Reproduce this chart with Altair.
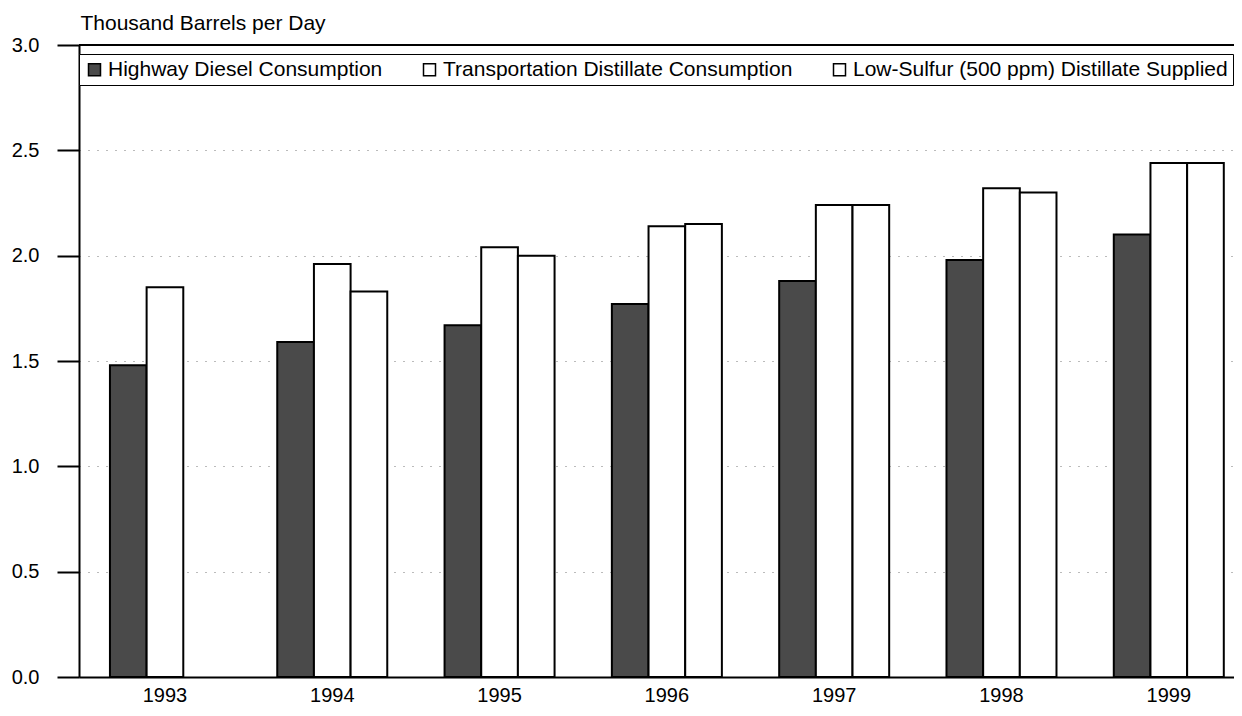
import altair as alt
import pandas as pd

years = ["1993", "1994", "1995", "1996", "1997", "1998", "1999"]
series = [
    "Highway Diesel Consumption",
    "Transportation Distillate Consumption",
    "Low-Sulfur (500 ppm) Distillate Supplied",
]
highway = [1.48, 1.59, 1.67, 1.77, 1.88, 1.98, 2.10]
transport = [1.85, 1.96, 2.04, 2.14, 2.24, 2.32, 2.44]
low_sulfur = [None, 1.83, 2.00, 2.15, 2.24, 2.30, 2.44]
y_ticks = [0.0, 0.5, 1.0, 1.5, 2.0, 2.5, 3.0]
fills = ["#4a4a4a", "white", "white"]

rows = []
for i, yr in enumerate(years):
    for s, vals in zip(series, [highway, transport, low_sulfur]):
        if vals[i] is not None:
            rows.append({"Year": yr, "Series": s, "Value": vals[i]})
df = pd.DataFrame(rows)

FONT = "Liberation Sans"

bars = alt.Chart(df).mark_bar(stroke="black", strokeWidth=2).encode(
    x=alt.X(
        "Year:N",
        sort=years,
        scale=alt.Scale(paddingInner=0.3425, paddingOuter=0.123, align=0.752),
        axis=alt.Axis(
            title=None, labelAngle=0, ticks=False, domainColor="black",
            domainWidth=2, labelFontSize=20, labelPadding=8, labelColor="black",
            grid=False,
        ),
    ),
    xOffset=alt.XOffset(
        "Series:N", sort=series,
        scale=alt.Scale(domain=series, paddingInner=0, paddingOuter=0),
    ),
    y=alt.Y(
        "Value:Q",
        scale=alt.Scale(domain=[0, 3], nice=False),
        axis=alt.Axis(
            values=y_ticks, format=".1f", title="Thousand Barrels per Day",
            titleAngle=0, titleAlign="left", titleBaseline="middle",
            titleX=1, titleY=-22, titleFontSize=21, titleFontWeight="normal",
            titleColor="black", labelFontSize=20, labelColor="black",
            labelPadding=18, tickSize=22, tickColor="black", tickWidth=2,
            domainColor="black", domainWidth=2, grid=True,
            gridDash=[1, 8], gridColor="#777777", gridWidth=1,
        ),
    ),
    fill=alt.Fill(
        "Series:N",
        scale=alt.Scale(domain=series, range=fills),
        legend=alt.Legend(
            title=None, orient="none", legendX=0, legendY=9,
            direction="horizontal", symbolType="square", symbolSize=144,
            symbolStrokeColor="black", symbolStrokeWidth=1.5,
            labelFontSize=21, labelColor="black", labelOffset=3,
            labelLimit=800, columnPadding=36, strokeColor="black",
            fillColor="white", padding=5,
        ),
    ),
)

top_line = alt.Chart(pd.DataFrame({"v": [3.0]})).mark_rule(
    color="black", strokeWidth=2
).encode(y="v:Q")

chart = (
    alt.layer(bars, top_line)
    .properties(
        width=1155,
        height=632,
        autosize="none",
        padding={"left": 71, "top": 37, "right": 0, "bottom": 31},
    )
    .configure(font=FONT)
    .configure_view(stroke=None)
)

chart.save("out.html", embed_options={"renderer": "svg", "actions": False})
